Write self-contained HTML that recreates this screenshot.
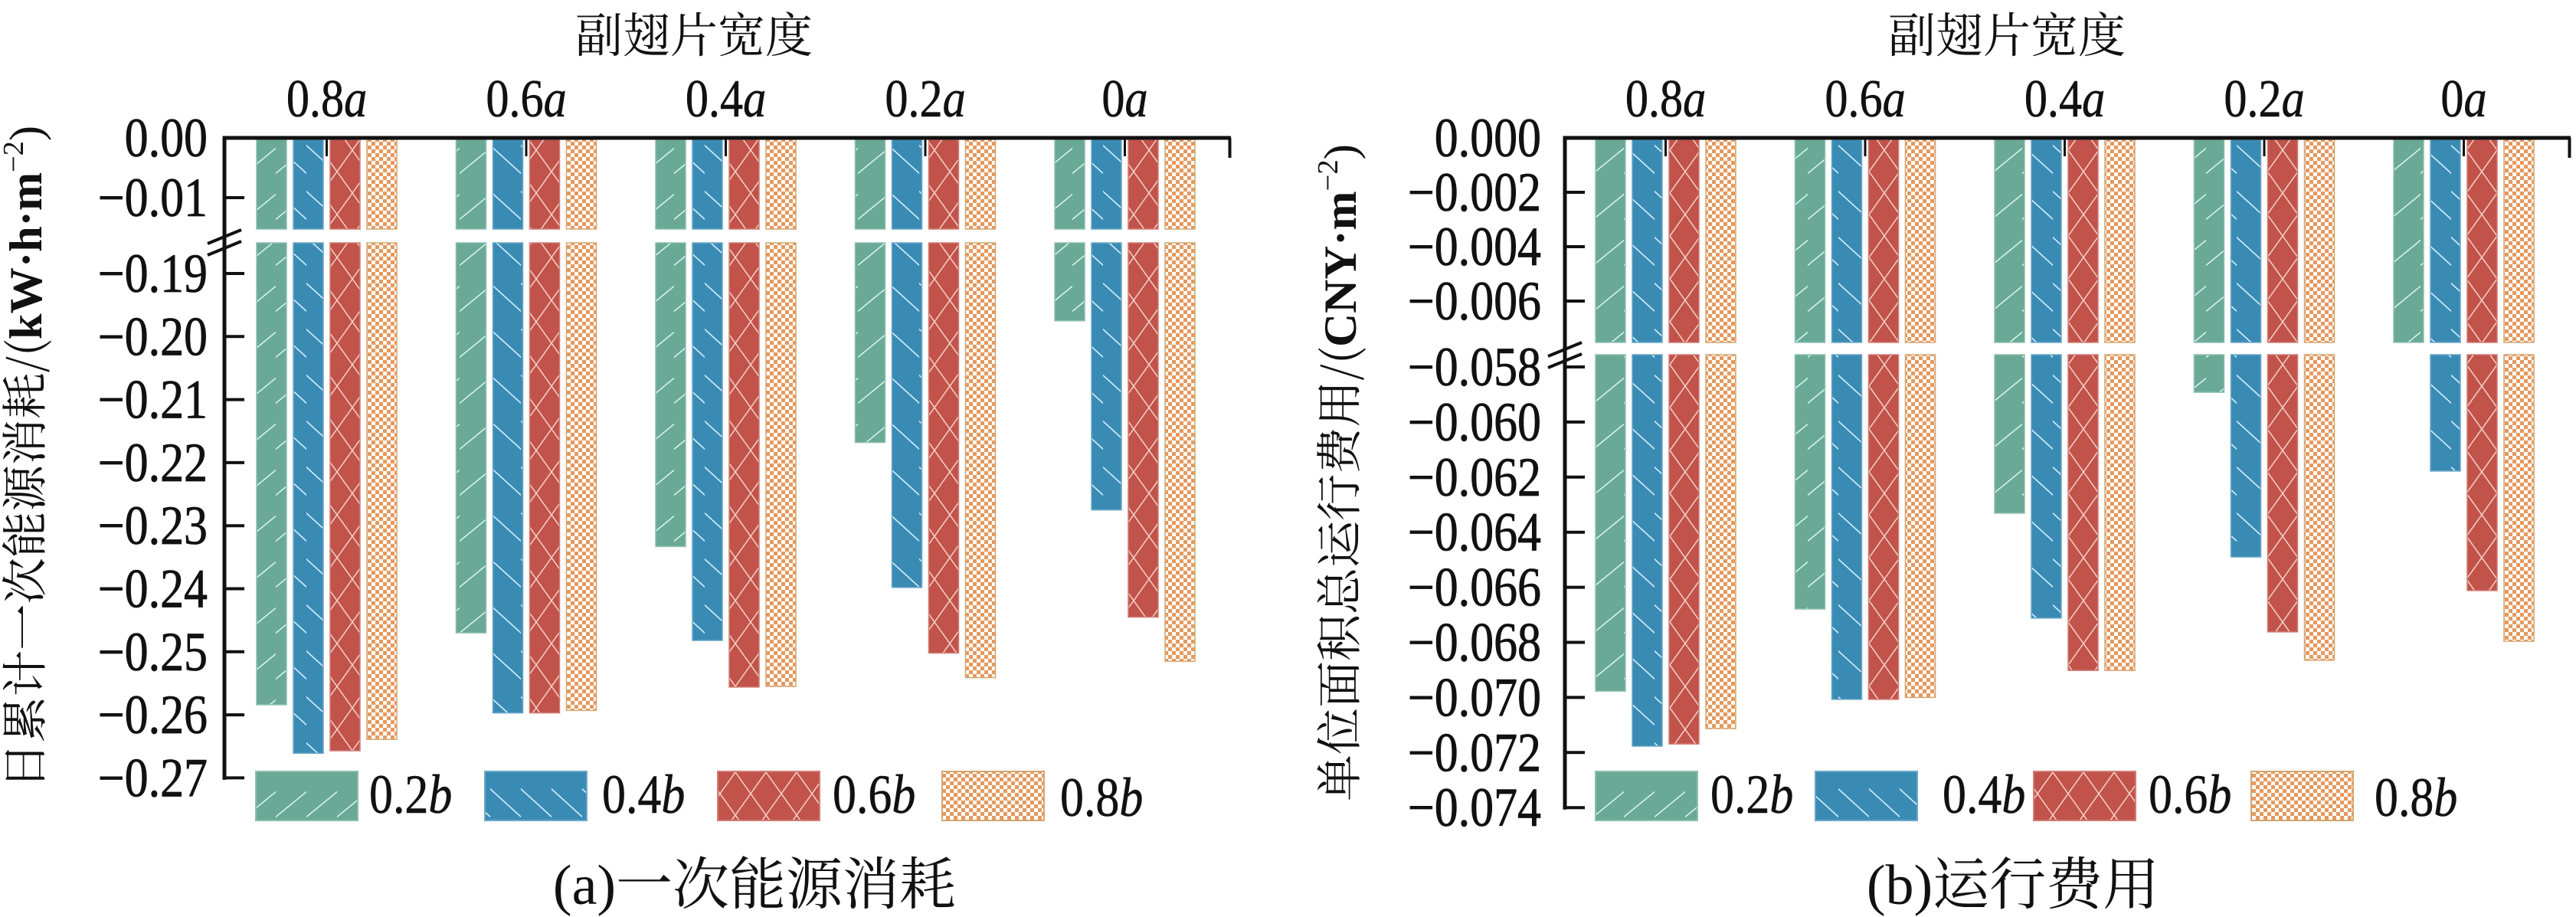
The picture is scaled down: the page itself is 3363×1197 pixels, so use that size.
<!DOCTYPE html>
<html><head><meta charset="utf-8">
<style>
html,body{margin:0;padding:0;background:#fff;}
svg{display:block;}
text{font-family:"Liberation Serif","Noto Serif CJK SC","Noto Sans CJK SC",serif;fill:#111;}
</style></head>
<body>
<svg id="chart" width="3363" height="1197" viewBox="0 0 3363 1197" xmlns="http://www.w3.org/2000/svg">
<defs>
<pattern id="pGreen" patternUnits="userSpaceOnUse" width="40" height="60"><rect width="40" height="60" fill="#6aa995"/><line x1="-2" y1="48" x2="42" y2="12" stroke="#d8f5ee" stroke-width="1.6"/></pattern>
<pattern id="pBlue" patternUnits="userSpaceOnUse" width="40" height="60"><rect width="40" height="60" fill="#3a8bb4"/><line x1="-2" y1="8" x2="42" y2="48" stroke="#d6f0ff" stroke-width="1.6"/></pattern>
<pattern id="pRed" patternUnits="userSpaceOnUse" width="40" height="56"><rect width="40" height="56" fill="#c1534b"/><line x1="0" y1="0" x2="40" y2="56" stroke="#f6d3c8" stroke-width="1.5"/><line x1="40" y1="0" x2="0" y2="56" stroke="#f6d3c8" stroke-width="1.5"/></pattern>
<pattern id="pCheck" patternUnits="userSpaceOnUse" width="10" height="10"><rect width="10" height="10" fill="#fff"/><rect width="5" height="5" fill="#e4995e"/><rect x="5" y="5" width="5" height="5" fill="#e4995e"/></pattern>
</defs>
<g id="panels"></g>
</svg>
<script>
// ---- data ----
const categories = ["0.8", "0.6", "0.4", "0.2", "0"];
const seriesNames = ["0.2", "0.4", "0.6", "0.8"];
// panel (a) primary energy consumption, kW·h·m^-2
const energy02b = [-0.2584, -0.2470, -0.2333, -0.2168, -0.1975];
const energy04b = [-0.2661, -0.2597, -0.2482, -0.2398, -0.2275];
const energy06b = [-0.2657, -0.2597, -0.2556, -0.2502, -0.2445];
const energy08b = [-0.2639, -0.2593, -0.2555, -0.2541, -0.2515];
const energyTicksUpper = [0.00, -0.01];
const energyTicksLower = [-0.19, -0.20, -0.21, -0.22, -0.23, -0.24, -0.25, -0.26, -0.27];
const energyTickLabelsUpper = ["0.00", "\u22120.01"];
const energyTickLabelsLower = ["\u22120.19", "\u22120.20", "\u22120.21", "\u22120.22", "\u22120.23", "\u22120.24", "\u22120.25", "\u22120.26", "\u22120.27"];
// panel (b) running cost, CNY·m^-2
const cost02b = [-0.06977, -0.06679, -0.06331, -0.05892, -0.0570];
const cost04b = [-0.07177, -0.07007, -0.06712, -0.06490, -0.06178];
const cost06b = [-0.07169, -0.07007, -0.06902, -0.06762, -0.06612];
const cost08b = [-0.07113, -0.07000, -0.06902, -0.06865, -0.06796];
const costTicksUpper = [0.000, -0.002, -0.004, -0.006];
const costTicksLower = [-0.058, -0.060, -0.062, -0.064, -0.066, -0.068, -0.070, -0.072, -0.074];
const costTickLabelsUpper = ["0.000", "\u22120.002", "\u22120.004", "\u22120.006"];
const costTickLabelsLower = ["\u22120.058", "\u22120.060", "\u22120.062", "\u22120.064", "\u22120.066", "\u22120.068", "\u22120.070", "\u22120.072", "\u22120.074"];

const NS = "http://www.w3.org/2000/svg";
const root = document.getElementById("panels");
const fills = ["url(#pGreen)", "url(#pBlue)", "url(#pRed)", "url(#pCheck)"];
const strokes = ["#8cbfae", "#6aa7c8", "#d07d74", "#d4a56f"];
const SX = 0.86;
function mk(tag, attrs, parent) {
  const e = document.createElementNS(NS, tag);
  for (const k in attrs) e.setAttribute(k, attrs[k]);
  (parent || root).appendChild(e);
  return e;
}

function panel(cfg) {
  const g = mk("g", {});
  
  
  const yUp = v => cfg.y0 + (-v) * cfg.upScale;
  const yLow = v => cfg.lowRefY + (cfg.lowRef - v) * cfg.lowScale;
  cfg.series.forEach((vals, s) => {
    vals.forEach((v, c) => {
      const x = cfg.barX0 + c * 260.5 + s * 48;
      const top = cfg.y0 + 2;
      const upBottom = Math.min(yUp(v), cfg.upEnd);
      const r1 = mk("rect", {x: x, y: top, width: 39, height: upBottom - top, fill: fills[s], stroke: strokes[s], "stroke-width": 1.5}, g);
      
      
      const yb = yLow(v);
      if (yb > cfg.lowStart) {
        const r2 = mk("rect", {x: x, y: cfg.lowStart, width: 39, height: yb - cfg.lowStart, fill: fills[s], stroke: strokes[s], "stroke-width": 1.5}, g);
        
        
      }
    });
  });
  const ax = cfg.axisX;
  const lastY = yLow(cfg.ticksLower[cfg.ticksLower.length - 1]);
  const yAxis = mk("line", {x1: ax, y1: cfg.y0 - 2, x2: ax, y2: lastY + 2.5, stroke: "#111", "stroke-width": 5}, g);
  
  
  const xAxis = mk("line", {x1: ax - 2.5, y1: cfg.y0, x2: cfg.axisEnd, y2: cfg.y0, stroke: "#111", "stroke-width": 5}, g);
  
  
  const endTick = mk("line", {x1: cfg.axisEnd - 1.5, y1: cfg.y0, x2: cfg.axisEnd - 1.5, y2: cfg.y0 + 26, stroke: "#111", "stroke-width": 4}, g);
  
  
  [0, 15].forEach(d => {
    const b = mk("line", {x1: ax - 22, y1: cfg.breakY + 10 + d, x2: ax + 22, y2: cfg.breakY - 8 + d, stroke: "#111", "stroke-width": 4}, g);
    
    
  });
  const addTick = (y, label) => {
    if (Math.abs(y - cfg.y0) > 2) {
      const t = mk("line", {x1: ax, y1: y, x2: ax + 26, y2: y, stroke: "#111", "stroke-width": 4}, g);
      
      
    }
    const tl = mk("text", {transform: "translate(" + cfg.labelX + "," + (y + 24) + ") scale(" + SX + ",1)", "text-anchor": "end", "font-size": 72, "stroke": "#111", "stroke-width": 0.8}, g);
    tl.textContent = label;
    
    
  };
  cfg.ticksUpper.forEach((v, i) => addTick(yUp(v), cfg.labelsUpper[i]));
  cfg.ticksLower.forEach((v, i) => addTick(yLow(v), cfg.labelsLower[i]));
  categories.forEach((c, i) => {
    const cx = cfg.barX0 + i * 260.5 + 91.5;
    const t = mk("line", {x1: cx, y1: cfg.y0, x2: cx, y2: cfg.y0 + 24, stroke: "#111", "stroke-width": 3}, g);
    
    
    const tx = mk("text", {transform: "translate(" + cx + ",152) scale(" + SX + ",1)", "text-anchor": "middle", "font-size": 70, "stroke": "#111", "stroke-width": 0.6}, g);
    
    
    tx.appendChild(document.createTextNode(c));
    const it = mk("tspan", {"font-style": "italic"}, tx);
    it.textContent = "a";
  });
  const title = mk("text", {x: cfg.titleX, y: 68, "text-anchor": "middle", "font-size": 62, "font-family": "'Noto Serif CJK SC','Noto Sans CJK SC',serif"}, g);
  title.textContent = "副翅片宽度";
  
  
  const yl = mk("text", {transform: "translate(" + cfg.ylabX + "," + cfg.ylabY + ") rotate(-90)", "text-anchor": "middle", "font-size": 60, textLength: cfg.ylabLen, lengthAdjust: "spacingAndGlyphs", y: 20}, g);
  
  
  const t1 = mk("tspan", {"font-family": "'Noto Serif CJK SC','Noto Sans CJK SC',serif"}, yl); t1.textContent = cfg.ylabCJK;
  const t2 = mk("tspan", {"font-weight": "bold"}, yl); t2.textContent = cfg.ylabUnit;
  const t3 = mk("tspan", {"font-size": 38, dy: -24}, yl); t3.textContent = "\u22122";
  const t4 = mk("tspan", {dy: 24}, yl); t4.textContent = ")";
  cfg.legendX.forEach((lx, s) => {
    const r = mk("rect", {x: lx, y: 1007, width: 133, height: 64, fill: fills[s], stroke: strokes[s], "stroke-width": 2}, g);
    
    
    const lt = mk("text", {transform: "translate(" + cfg.legendTextX[s] + "," + (s === 3 ? 1065 : 1061) + ") scale(" + SX + ",1)", "font-size": 72, "stroke": "#111", "stroke-width": 0.6}, g);
    
    
    lt.appendChild(document.createTextNode(seriesNames[s]));
    const ib = mk("tspan", {"font-style": "italic"}, lt);
    ib.textContent = "b";
  });
  const cap = mk("text", {x: cfg.capX, y: 1180, "text-anchor": "middle", "font-size": 74, "font-family": "'Noto Serif CJK SC','Noto Sans CJK SC',serif"}, g);
  cap.textContent = cfg.caption;
  
  
}

panel({
  name: "panel-a-energy", series: [energy02b, energy04b, energy06b, energy08b],
  axisX: 293, axisEnd: 1607, barX0: 335, y0: 180, upScale: 7800, upEnd: 299, lowStart: 317,
  lowRef: -0.19, lowRefY: 357, lowScale: 8230, breakY: 308,
  ticksUpper: energyTicksUpper, labelsUpper: energyTickLabelsUpper,
  ticksLower: energyTicksLower, labelsLower: energyTickLabelsLower, labelX: 271,
  titleX: 906, ylabX: 34, ylabY: 597, ylabLen: 866,
  ylabCJK: "日累计一次能源消耗/(", ylabUnit: "kW·h·m",
  legendX: [334, 633, 937, 1230], legendTextX: [482, 786, 1087, 1384],
  capX: 985, caption: "(a)一次能源消耗"
});
panel({
  name: "panel-b-cost", series: [cost02b, cost04b, cost06b, cost08b],
  axisX: 2043, axisEnd: 3356, barX0: 2083, y0: 180, upScale: 35500, upEnd: 447, lowStart: 463,
  lowRef: -0.058, lowRefY: 479, lowScale: 35950, breakY: 455,
  ticksUpper: costTicksUpper, labelsUpper: costTickLabelsUpper,
  ticksLower: costTicksLower, labelsLower: costTickLabelsLower, labelX: 2012,
  titleX: 2620, ylabX: 1750, ylabY: 617, ylabLen: 858,
  ylabCJK: "单位面积总运行费用/(", ylabUnit: "CNY·m",
  legendX: [2083, 2370, 2655, 2939], legendTextX: [2233, 2536, 2805, 3100],
  capX: 2628, caption: "(b)运行费用"
});
</script>
</body></html>
